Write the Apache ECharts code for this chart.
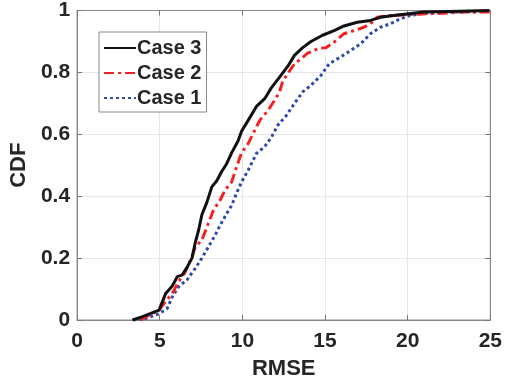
<!DOCTYPE html>
<html><head><meta charset="utf-8">
<script src="https://cdn.jsdelivr.net/npm/echarts@6/dist/echarts.min.js"></script>
<style>html,body{margin:0;padding:0;background:#fff}#c{width:505px;height:385px}</style>
</head><body><div id="c"></div>
<script>
const xTicks = [0, 5, 10, 15, 20, 25];
const yTicks = [0, 0.2, 0.4, 0.6, 0.8, 1];
const seriesNames = ['Case 3', 'Case 2', 'Case 1'];
const case3X = [3.36,3.96,4.96,5.36,5.76,6.06,6.35,6.65,6.95,7.15,7.35,7.55,7.85,8.15,8.45,8.75,9.05,9.35,9.75,9.95,10.35,10.85,11.35,11.75,12.25,12.75,13.15,13.65,14.15,14.85,15.55,16.15,16.95,17.75,18.35,19.15,19.95,20.95,22.5,24.95];
const case3Y = [0,0.011,0.032,0.086,0.11,0.14,0.145,0.17,0.20,0.25,0.29,0.34,0.38,0.43,0.45,0.48,0.505,0.54,0.58,0.61,0.645,0.69,0.715,0.75,0.785,0.82,0.855,0.88,0.90,0.92,0.935,0.95,0.962,0.968,0.978,0.984,0.989,0.995,0.997,1.0];
const case2X = [3.86,4.36,4.96,5.36,5.76,6.15,6.55,6.95,7.15,7.55,7.85,8.25,8.65,8.95,9.35,9.65,9.95,10.35,10.75,11.05,11.55,11.95,12.25,12.45,12.75,13.15,13.55,13.95,14.55,15.05,15.55,16.15,16.75,17.35,17.75,18.15,18.95,20.15,21.55,23.5,24.95];
const case2Y = [0,0.016,0.032,0.06,0.086,0.124,0.156,0.204,0.237,0.258,0.30,0.355,0.387,0.42,0.446,0.495,0.54,0.57,0.613,0.645,0.677,0.71,0.737,0.774,0.796,0.828,0.844,0.862,0.876,0.88,0.898,0.925,0.935,0.946,0.957,0.978,0.984,0.987,0.99,0.995,0.995];
const case1X = [3.36,4.16,4.96,5.46,5.76,6.15,6.65,7.15,7.55,7.95,8.35,8.65,9.05,9.35,9.65,9.95,10.35,10.85,11.35,11.75,12.15,12.65,13.15,13.65,14.15,14.75,15.25,15.95,16.55,17.15,17.75,18.35,18.95,19.55,20.15,20.95,22.5,24.95];
const case1Y = [0,0.005,0.02,0.038,0.075,0.108,0.13,0.167,0.2,0.237,0.274,0.306,0.344,0.37,0.41,0.446,0.484,0.538,0.56,0.59,0.63,0.66,0.70,0.737,0.758,0.79,0.828,0.85,0.871,0.892,0.925,0.946,0.957,0.973,0.984,0.991,0.995,0.997];

const zip = (xs, ys) => xs.map((x, i) => [x, ys[i]]);
const txt = '#262626';
const font = 'Liberation Sans, Arial, sans-serif';
const chart = echarts.init(document.getElementById('c'), null, {renderer: 'canvas'});
const tick = {show: true, inside: true, length: 5, lineStyle: {color: '#777'}};
const line = {show: true, onZero: false, lineStyle: {color: '#888', width: 1}};
chart.setOption({
  animation: false,
  backgroundColor: '#fff',
  grid: {left: 74, right: 14, top: 10, bottom: 65, show: true, borderColor: '#888', borderWidth: 1, backgroundColor: 'transparent'},
  legend: {
    orient: 'vertical', left: 99, top: 32,
    data: seriesNames,
    itemWidth: 32, itemHeight: 14, itemGap: 5,
    padding: [6, 5, 4, 4],
    borderColor: '#888', borderWidth: 1, backgroundColor: '#fff',
    itemStyle: {opacity: 0},
    textStyle: {color: txt, fontSize: 20, fontWeight: 'bold', fontFamily: font, padding: [0, 0, 0, -4]}
  },
  xAxis: [{
    type: 'value', min: 0, max: 25, interval: 5, position: 'bottom',
    name: 'RMSE', nameLocation: 'middle', nameGap: 38,
    nameTextStyle: {color: txt, fontSize: 22, fontWeight: 'bold', fontFamily: font},
    axisLine: line, axisTick: tick,
    axisLabel: {color: txt, fontSize: 21, fontWeight: 'bold', fontFamily: font, margin: 11},
    splitLine: {show: true, lineStyle: {color: '#e6e6e6', width: 1}}
  }, {
    type: 'value', min: 0, max: 25, interval: 5, position: 'top',
    axisLine: line, axisTick: tick, axisLabel: {show: false}, splitLine: {show: false}
  }],
  yAxis: [{
    type: 'value', min: 0, max: 1, interval: 0.2, position: 'left',
    name: 'CDF', nameLocation: 'middle', nameGap: 44,
    nameTextStyle: {color: txt, fontSize: 22, fontWeight: 'bold', fontFamily: font},
    axisLine: line, axisTick: tick,
    axisLabel: {color: txt, fontSize: 21, fontWeight: 'bold', fontFamily: font, margin: 7},
    splitLine: {show: true, lineStyle: {color: '#e6e6e6', width: 1}}
  }, {
    type: 'value', min: 0, max: 1, interval: 0.2, position: 'right',
    axisLine: line, axisTick: tick, axisLabel: {show: false}, splitLine: {show: false}
  }],
  series: [
    {name: 'Case 3', type: 'line', data: zip(case3X, case3Y), showSymbol: false, symbol: 'none',
     lineStyle: {color: '#111', width: 3, type: 'solid'}, itemStyle: {color: '#111'}, z: 4},
    {name: 'Case 2', type: 'line', data: zip(case2X, case2Y), showSymbol: false, symbol: 'none',
     lineStyle: {color: '#f52222', width: 3, type: [10, 4, 3, 4]}, itemStyle: {color: '#f52222'}, z: 3},
    {name: 'Case 1', type: 'line', data: zip(case1X, case1Y), showSymbol: false, symbol: 'none',
     lineStyle: {color: '#2f4aa8', width: 3, type: [3, 3]}, itemStyle: {color: '#2f4aa8'}, z: 2}
  ]
});
</script></body></html>
